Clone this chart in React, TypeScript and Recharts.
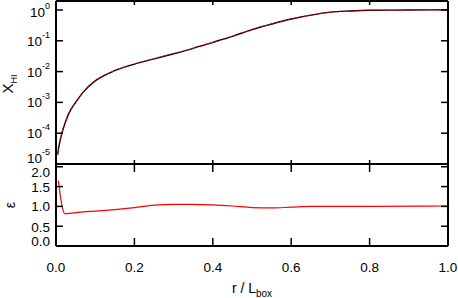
import React from "react";
import { LineChart, Line, XAxis, YAxis } from "recharts";

const rValues = [0.004, 0.008, 0.015, 0.025, 0.035, 0.05, 0.07, 0.1, 0.14, 0.2, 0.25, 0.3, 0.35, 0.4, 0.45, 0.5, 0.55, 0.6, 0.65, 0.7, 0.75, 0.8, 0.9, 1.0];
const xhiValues = [2.0e-5, 4.0e-5, 1.0e-4, 2.5e-4, 5.0e-4, 1.0e-3, 2.2e-3, 5.0e-3, 9.5e-3, 1.75e-2, 2.6e-2, 3.8e-2, 5.7e-2, 8.9e-2, 0.14, 0.23, 0.35, 0.51, 0.68, 0.85, 0.93, 0.98, 1.0, 1.02];

const rEps = [0.006, 0.012, 0.016, 0.023, 0.04, 0.07, 0.1, 0.15, 0.2, 0.25, 0.3, 0.35, 0.4, 0.45, 0.5, 0.55, 0.6, 0.65, 0.8, 1.0];
const epsValues = [1.65, 1.2, 0.98, 0.81, 0.83, 0.86, 0.88, 0.92, 0.97, 1.03, 1.05, 1.05, 1.04, 1.01, 0.97, 0.96, 0.98, 1.0, 1.0, 1.01];

const xTicks = [0, 0.2, 0.4, 0.6, 0.8, 1.0];
const xInnerTicks = [0.2, 0.4, 0.6, 0.8];
const logTicks = [1e-5, 1e-4, 1e-3, 1e-2, 1e-1, 1];
const epsTicks = [0, 0.5, 1.0, 1.5, 2.0];

const topData = rValues.map((r, i) => ({ r, xhi: xhiValues[i] }));
const botData = rEps.map((r, i) => ({ r, eps: epsValues[i] }));

const FONT = "'Liberation Sans', Arial, Helvetica, sans-serif";

const Empty = () => <g />;

const LogTick = (props: any) => {
  const { x, y, payload } = props;
  const exp = Math.round(Math.log10(payload.value));
  const shift = exp === -5 ? -6 : exp === 0 ? 2 : 0;
  return (
    <text x={x} y={y + shift} textAnchor="end" dominantBaseline="central" fontFamily={FONT} fontSize={13.5} fill="#000">
      <tspan>10</tspan>
      <tspan dy={-6} fontSize={9}>{String(exp)}</tspan>
    </text>
  );
};

const EpsTick = (props: any) => {
  const { x, y, payload } = props;
  const v = payload.value;
  const shift = v === 2 ? 5.5 : v === 0 ? -4.5 : v === 1.5 ? 1 : v === 0.5 ? 1.5 : 0;
  return (
    <text x={x} y={y + shift} textAnchor="end" dominantBaseline="central" fontFamily={FONT} fontSize={13.5} fill="#000">
      {v.toFixed(1)}
    </text>
  );
};

const XTick = (props: any) => {
  const { x, y, payload } = props;
  return (
    <text x={x} y={y} textAnchor="middle" dominantBaseline="central" fontFamily={FONT} fontSize={13.5} fill="#000">
      {payload.value.toFixed(1)}
    </text>
  );
};

const axisLine = { stroke: "#000", strokeWidth: 2 };
const tickLine = { stroke: "#000", strokeWidth: 1.5 };

export default function App() {
  return (
    <div style={{ position: "absolute", left: 0, top: 0, width: 458, height: 298, background: "#fff" }}>
      <div style={{ position: "absolute", left: 0, top: 0 }}>
        <LineChart width={458} height={166} data={topData} margin={{ top: 0, right: 9, left: 0, bottom: 1 }}>
          <XAxis xAxisId="b" dataKey="r" type="number" domain={[0, 1]} ticks={xInnerTicks} interval={0} orientation="bottom" height={1} stroke="#000" axisLine={axisLine} tickLine={tickLine} tickSize={-4} tick={Empty} />
          <XAxis xAxisId="t" dataKey="r" type="number" domain={[0, 1]} ticks={xInnerTicks} interval={0} orientation="top" height={1} stroke="#000" axisLine={axisLine} tickLine={tickLine} tickSize={-4} tick={Empty} />
          <YAxis yAxisId="l" type="number" scale="log" domain={[1e-5, 1.96]} allowDataOverflow ticks={logTicks} interval={0} width={56} stroke="#000" axisLine={axisLine} tickLine={tickLine} tickSize={-7} tickMargin={13} tick={LogTick} />
          <YAxis yAxisId="r" orientation="right" type="number" scale="log" domain={[1e-5, 1.96]} allowDataOverflow ticks={logTicks} interval={0} width={1} stroke="#000" axisLine={axisLine} tickLine={tickLine} tickSize={-7} tick={Empty} />
          <Line xAxisId="b" yAxisId="l" dataKey="xhi" type="monotone" stroke="#000" strokeWidth={1.4} dot={false} isAnimationActive={false} />
          <Line xAxisId="b" yAxisId="l" dataKey="xhi" type="monotone" stroke="#ff0000" strokeWidth={1.2} strokeDasharray="1.5 2.5" dot={false} isAnimationActive={false} />
        </LineChart>
      </div>
      <div style={{ position: "absolute", left: 0, top: 0 }}>
        <LineChart width={458} height={298} data={botData} margin={{ top: 163, right: 9, left: 0, bottom: 0 }}>
          <XAxis xAxisId="b" dataKey="r" type="number" domain={[0, 1]} ticks={xTicks} interval={0} orientation="bottom" height={52} stroke="#000" axisLine={axisLine} tickLine={tickLine} tickSize={-8} tickMargin={29} tick={XTick} />
          <XAxis xAxisId="t" dataKey="r" type="number" domain={[0, 1]} ticks={xInnerTicks} interval={0} orientation="top" height={1} stroke="#000" axisLine={axisLine} tickLine={tickLine} tickSize={-8} tick={Empty} />
          <YAxis yAxisId="l" type="number" domain={[0, 2.07]} allowDataOverflow ticks={epsTicks} interval={0} width={56} stroke="#000" axisLine={axisLine} tickLine={tickLine} tickSize={-7} tickMargin={13} tick={EpsTick} />
          <YAxis yAxisId="r" orientation="right" type="number" domain={[0, 2.07]} allowDataOverflow ticks={epsTicks} interval={0} width={1} stroke="#000" axisLine={axisLine} tickLine={tickLine} tickSize={-7} tick={Empty} />
          <Line xAxisId="b" yAxisId="l" dataKey="eps" type="monotone" stroke="#ff0000" strokeWidth={1.2} dot={false} isAnimationActive={false} />
        </LineChart>
      </div>
      <svg width={458} height={298} style={{ position: "absolute", left: 0, top: 0, pointerEvents: "none" }}>
        <text transform="translate(13,84) rotate(-90)" textAnchor="middle" fontFamily={FONT} fontSize={15} fill="#000">
          X<tspan fontSize={9} dy={4}>HI</tspan>
        </text>
        <text transform="translate(15,205) rotate(-90)" textAnchor="middle" fontFamily={FONT} fontSize={14} fill="#000">
          ε
        </text>
        <text x={252} y={293} textAnchor="middle" fontFamily={FONT} fontSize={14} fill="#000">
          r / L<tspan fontSize={10} dy={4}>box</tspan>
        </text>
      </svg>
    </div>
  );
}
